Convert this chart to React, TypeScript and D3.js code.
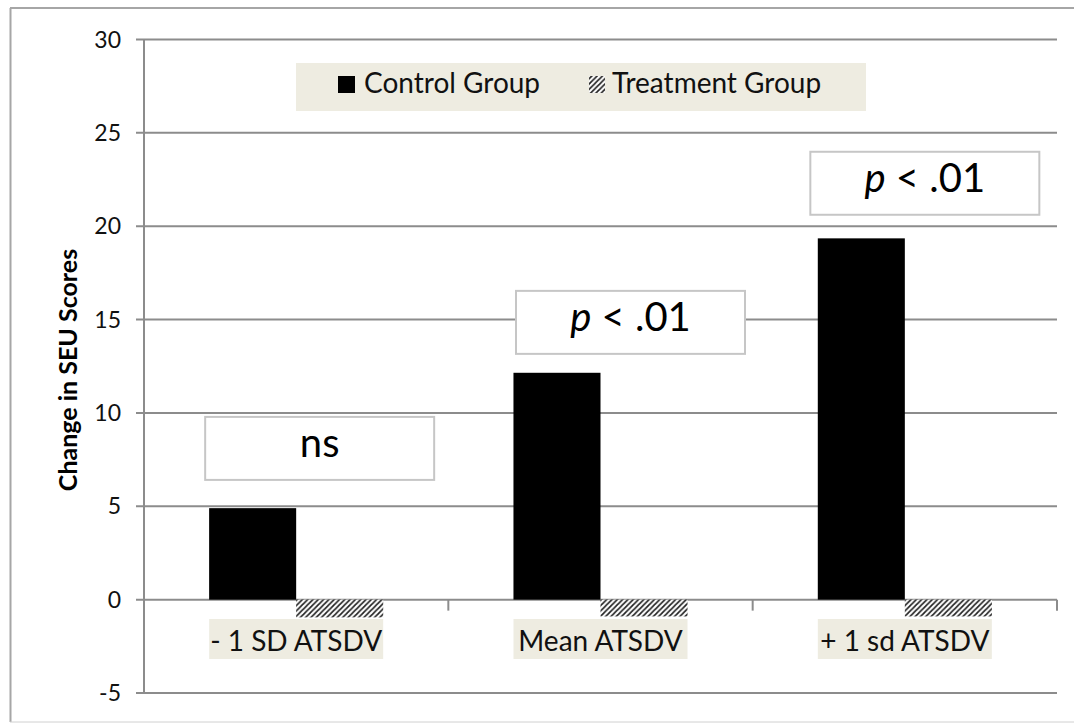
import React from "react";
import * as d3 from "d3";

const categories = ["- 1 SD ATSDV", "Mean ATSDV", "+ 1 sd ATSDV"];
const seriesNames = ["Control Group", "Treatment Group"];
const controlValues = [4.9, 12.15, 19.35];
const treatmentValues = [-0.95, -0.9, -0.9];
const yTicks = [-5, 0, 5, 10, 15, 20, 25, 30];
const annotationLabels = ["ns", "p < .01", "p < .01"];
const annotationCenters = [8.1, 14.85, 22.3];

const W = 1074;
const H = 724;
const FONT = "Lato, 'Open Sans', sans-serif";

export default function App() {
  const left = 144;
  const right = 1057;
  const y = d3.scaleLinear().domain([-5, 30]).range([693, 39.5]);
  const x0 = d3.scaleBand<string>().domain(categories).range([left, right]).padding(0);
  const bw = x0.bandwidth();
  const groupGap = bw * 0.214;
  const x1 = d3
    .scaleBand<string>()
    .domain(seriesNames)
    .range([groupGap, bw - groupGap])
    .padding(0);

  const rows = categories.map((c, i) => ({
    cat: c,
    vals: [controlValues[i], treatmentValues[i]],
  }));

  const gridColor = "#8c8c8c";
  const annOffsets = [23.5, 30, 20];

  return (
    <svg
      width={W}
      height={H}
      style={{ position: "absolute", left: 0, top: 0, background: "#fff" }}
      fontFamily={FONT}
    >
      <defs>
        <pattern id="hatch" patternUnits="userSpaceOnUse" width="5.3" height="5.3">
          <rect width="5.3" height="5.3" fill="#fff" />
          <path
            d="M-1.3,1.3 L1.3,-1.3 M0,5.3 L5.3,0 M4,6.6 L6.6,4"
            stroke="#222"
            strokeWidth="1.7"
          />
        </pattern>
      </defs>

      {/* outer frame */}
      <line x1={10.5} y1={8} x2={10.5} y2={722} stroke="#a6a6a6" strokeWidth={2} />
      <line x1={10} y1={8} x2={W} y2={8} stroke="#a6a6a6" strokeWidth={2} />
      <line x1={10} y1={722} x2={W} y2={722} stroke="#d0d0d0" strokeWidth={1} />

      {/* gridlines and y ticks */}
      {yTicks.map((t) => (
        <g key={t}>
          <line
            x1={136}
            x2={right}
            y1={y(t)}
            y2={y(t)}
            stroke={gridColor}
            strokeWidth={2}
          />
          <text
            x={121}
            y={y(t)}
            dy="0.35em"
            textAnchor="end"
            fontSize={23}
            fill="#111"
          >
            {t}
          </text>
        </g>
      ))}
      {/* y axis */}
      <line x1={left} x2={left} y1={y(30)} y2={y(-5)} stroke={gridColor} strokeWidth={2} />

      {/* category ticks */}
      {[...categories.map((c) => x0(c)!), right].map((xv, i) => (
        <line
          key={i}
          x1={xv}
          x2={xv}
          y1={y(0)}
          y2={y(0) + 11}
          stroke={gridColor}
          strokeWidth={2}
        />
      ))}

      {/* bars */}
      {rows.map((r) => (
        <g key={r.cat} transform={`translate(${x0(r.cat)},0)`}>
          {r.vals.map((v, j) => (
            <rect
              key={j}
              x={x1(seriesNames[j])}
              width={x1.bandwidth()}
              y={Math.min(y(v), y(0))}
              height={Math.abs(y(v) - y(0))}
              fill={j === 0 ? "#000" : "url(#hatch)"}
            />
          ))}
        </g>
      ))}

      {/* category labels */}
      {categories.map((c) => {
        const cx = x0(c)! + bw / 2;
        return (
          <g key={c}>
            <rect x={cx - 87} y={619} width={174} height={40} fill="#eeece1" />
            <text x={cx} y={651} textAnchor="middle" fontSize={28} fill="#111">
              {c}
            </text>
          </g>
        );
      })}

      {/* annotations */}
      {annotationLabels.map((a, i) => {
        const cx = x0(categories[i])! + bw / 2 + annOffsets[i];
        const top = y(annotationCenters[i]) - 31.5;
        const isP = a.startsWith("p");
        return (
          <g key={i}>
            <rect
              x={cx - 114.5}
              y={top}
              width={229}
              height={63}
              fill="#fff"
              stroke="#c6c6c6"
              strokeWidth={2}
            />
            <text x={cx} y={top + 40} textAnchor="middle" fontSize={40} fill="#000">
              {isP ? (
                <>
                  <tspan fontStyle="italic">p</tspan>
                  <tspan>{a.slice(1)}</tspan>
                </>
              ) : (
                a
              )}
            </text>
          </g>
        );
      })}

      {/* legend */}
      <rect x={296} y={63} width={570} height={48} fill="#eeece1" />
      <rect x={338} y={76} width={17} height={17} fill="#000" />
      <text x={364} y={93} fontSize={28} fill="#111">
        {seriesNames[0]}
      </text>
      <rect x={589} y={76} width={16} height={17} fill="url(#hatch)" />
      <text x={612} y={93} fontSize={28} fill="#111">
        {seriesNames[1]}
      </text>

      {/* y axis title */}
      <text
        transform={`translate(77,370) rotate(-90)`}
        textAnchor="middle"
        fontSize={25}
        fontWeight="bold"
        fill="#000"
      >
        Change in SEU Scores
      </text>
    </svg>
  );
}
